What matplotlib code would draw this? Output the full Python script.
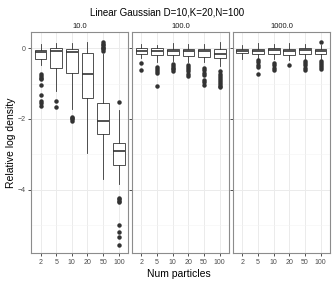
import numpy as np
import matplotlib.pyplot as plt

plt.rcParams['font.family'] = ['Liberation Sans', 'DejaVu Sans']

# Data
num_particles = ['2', '5', '10', '20', '50', '100']
panels = ['10.0', '100.0', '1000.0']

# per panel: whisker low, q1, median, q3, whisker high, outliers
whislo = [
    [-0.48, -1.22, -1.72, -2.96, -3.68, -3.84],
    [-0.27, -0.40, -0.36, -0.38, -0.40, -0.50],
    [-0.30, -0.30, -0.32, -0.34, -0.30, -0.30],
]
q1 = [
    [-0.31, -0.55, -0.71, -1.40, -2.42, -3.30],
    [-0.16, -0.21, -0.21, -0.22, -0.24, -0.28],
    [-0.15, -0.16, -0.16, -0.19, -0.17, -0.17],
]
med = [
    [-0.12, -0.09, -0.12, -0.73, -2.05, -2.91],
    [-0.07, -0.08, -0.09, -0.09, -0.08, -0.16],
    [-0.08, -0.07, -0.05, -0.09, -0.05, -0.08],
]
q3 = [
    [-0.05, -0.01, -0.03, -0.15, -1.56, -2.67],
    [0.00, 0.00, -0.02, -0.04, -0.02, -0.04],
    [-0.02, -0.02, 0.00, -0.04, 0.01, -0.03],
]
whishi = [
    [0.11, 0.14, 0.13, 0.18, -0.17, -1.74],
    [0.11, 0.09, 0.13, 0.11, 0.11, 0.17],
    [0.09, 0.13, 0.11, 0.15, 0.11, 0.10],
]
fliers = [
    [
        [-0.72, -0.78, -0.84, -0.87, -1.03, -1.33, -1.49, -1.56, -1.63],
        [-1.48, -1.67],
        [-1.93, -1.97, -2.01, -2.05],
        [],
        [0.16, 0.12, 0.08, 0.04, 0.0, -0.04, -0.08],
        [-1.52, -4.23, -4.27, -4.31, -4.35, -4.99, -5.18, -5.32, -5.55],
    ],
    [
        [-0.42, -0.63],
        [-0.54, -0.60, -0.66, -0.71, -1.07],
        [-0.45, -0.50, -0.55, -0.60, -0.66],
        [-0.47, -0.53, -0.59, -0.65, -0.72, -0.80],
        [-0.55, -0.62, -0.69, -0.76, -0.90, -0.97, -1.04],
        [-0.66, -0.72, -0.78, -0.84, -0.90, -0.96, -1.02, -1.08, -1.11],
    ],
    [
        [],
        [-0.33, -0.40, -0.47, -0.54, -0.73],
        [-0.42, -0.48, -0.55, -0.63],
        [-0.47],
        [-0.36, -0.42, -0.48, -0.55, -0.61],
        [0.17, -0.36, -0.42, -0.48, -0.54, -0.58],
    ],
]

fig, axes = plt.subplots(1, 3, figsize=(3.35, 2.84), dpi=100, sharey=True)
fig.subplots_adjust(left=0.093, right=0.985, top=0.887, bottom=0.109, wspace=0.04)

for p, ax in enumerate(axes):
    stats = []
    for i in range(len(num_particles)):
        stats.append(dict(whislo=whislo[p][i], q1=q1[p][i], med=med[p][i],
                          q3=q3[p][i], whishi=whishi[p][i], fliers=fliers[p][i]))
    ax.bxp(stats, positions=np.arange(1, 7), widths=0.75, patch_artist=True,
           showcaps=False,
           boxprops=dict(facecolor='white', edgecolor='#333333', linewidth=0.6),
           whiskerprops=dict(color='#333333', linewidth=0.6),
           medianprops=dict(color='#333333', linewidth=1.2),
           flierprops=dict(marker='o', markerfacecolor='#333333',
                           markeredgecolor='#333333', markersize=2.2))
    ax.set_xlim(0.4, 6.6)
    ax.set_ylim(-5.78, 0.45)
    ax.set_xticks(np.arange(1, 7))
    ax.set_xticklabels(num_particles)
    ax.set_yticks([0, -2, -4])
    ax.set_yticks([-1, -3, -5], minor=True)
    ax.grid(True, which='major', color='#EBEBEB', linewidth=0.7)
    ax.grid(True, which='minor', axis='y', color='#F3F3F3', linewidth=0.4)
    ax.set_axisbelow(True)
    for s in ax.spines.values():
        s.set_color('#8C8C8C')
        s.set_linewidth(0.8)
    ax.tick_params(axis='both', which='major', labelsize=5, colors='#333333',
                   length=2, width=0.6, labelcolor='#4D4D4D', pad=2)
    ax.tick_params(axis='y', which='minor', length=0)
    ax.set_title(panels[p], fontsize=5.5, color='#1A1A1A', pad=3)

axes[0].set_ylabel('Relative log density', fontsize=7.5, labelpad=1)
fig.text(0.535, 0.035, 'Num particles', ha='center', va='center', fontsize=7.5)
fig.suptitle('Linear Gaussian D=10,K=20,N=100', fontsize=7, y=0.975)

fig.savefig('out.png', dpi=100)
